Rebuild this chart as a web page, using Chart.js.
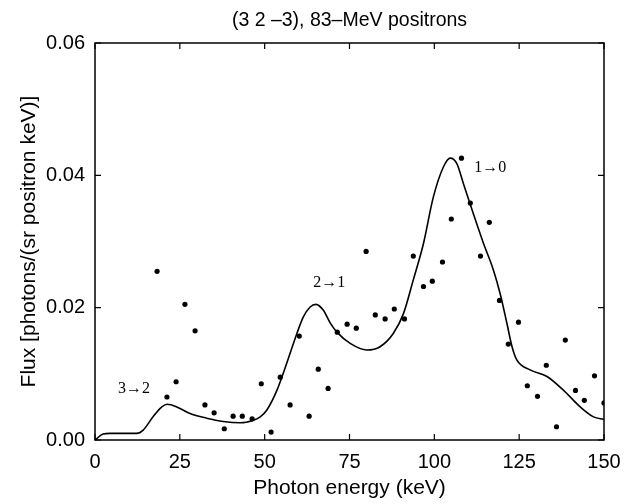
<!DOCTYPE html>
<html>
<head>
<meta charset="utf-8">
<script src="https://cdn.jsdelivr.net/npm/chart.js@4"></script>
<style>
html,body{margin:0;padding:0;background:#fff;}
#wrap{width:631px;height:504px;}
</style>
</head>
<body>
<div id="wrap"><canvas id="c" width="631" height="504"></canvas></div>
<script>
// Measured points (photon energy keV, flux)
const energyKeV = [18.3,21.2,23.9,26.5,29.5,32.4,35.1,38.1,40.7,43.4,46.3,49.0,51.9,54.6,57.5,60.2,63.1,65.8,68.7,71.4,74.3,77.0,79.9,82.6,85.5,88.2,91.2,93.8,96.8,99.4,102.4,105.0,108.0,110.6,113.6,116.2,119.2,121.8,124.8,127.4,130.4,133.0,136.0,138.6,141.6,144.2,147.2,150.0];
const fluxMeasured = [0.0255,0.0065,0.0088,0.0205,0.0165,0.0053,0.0041,0.0017,0.0036,0.0036,0.0032,0.0085,0.0012,0.0095,0.0053,0.0157,0.0036,0.0107,0.0078,0.0163,0.0175,0.0169,0.0285,0.0189,0.0183,0.0198,0.0183,0.0278,0.0232,0.0240,0.0269,0.0334,0.0426,0.0358,0.0278,0.0329,0.0211,0.0145,0.0178,0.0082,0.0066,0.0113,0.0020,0.0151,0.0075,0.0060,0.0097,0.0056];
// Calculated curve
const curveEnergy = [0,2.4,4.4,8,12.3,14.2,17.1,19.7,21.3,24.1,28.0,32.9,37.8,42.8,46.7,48.7,50.6,53.6,56.5,59.5,61.4,63.4,65.1,67.3,69.3,71.3,75.2,80.1,84.0,87.9,90.9,93.8,96.8,99.7,102.7,104.7,106.6,108.6,111.5,114.5,117.4,119.4,121.4,122.9,124.3,128.2,133.2,138.1,143.0,146.9,150.0];
const curveFlux = [0.0000,0.0009,0.0010,0.0010,0.0010,0.0015,0.0035,0.0050,0.0054,0.0050,0.0040,0.0033,0.0028,0.0026,0.0030,0.0035,0.0045,0.0075,0.0116,0.0161,0.0186,0.0201,0.0205,0.0196,0.0177,0.0163,0.0146,0.0136,0.0141,0.0161,0.0191,0.0242,0.0297,0.0367,0.0413,0.0426,0.0418,0.0387,0.0342,0.0297,0.0257,0.0221,0.0176,0.0141,0.0121,0.0106,0.0096,0.0075,0.0050,0.0035,0.0031];
// Transition labels and their anchor in data coordinates
const transitionLabels = ['3\u21922','2\u21921','1\u21920'];
const transitionX = [11.5,69.0,116.5];
const transitionY = [0.0077,0.0237,0.0412];
// Tick values
const xTicks = [0,25,50,75,100,125,150];
const yTicks = [0,0.02,0.04,0.06];

const curvePts = curveEnergy.map((x,i)=>({x:x,y:curveFlux[i]}));
const measPts = energyKeV.map((x,i)=>({x:x,y:fluxMeasured[i]}));
const SANS = '"Liberation Sans", Arial, sans-serif';

const framePlugin = {
  id:'frame',
  afterDatasetsDraw(chart){
    const {ctx, chartArea:a, scales:{x,y}} = chart;
    ctx.save();
    ctx.strokeStyle='#000';
    ctx.lineWidth=1.5;
    ctx.strokeRect(a.left,a.top,a.right-a.left,a.bottom-a.top);
    ctx.lineWidth=1.2;
    const L=6;
    ctx.beginPath();
    xTicks.forEach(v=>{
      const px=x.getPixelForValue(v);
      ctx.moveTo(px,a.bottom); ctx.lineTo(px,a.bottom-L);
      ctx.moveTo(px,a.top); ctx.lineTo(px,a.top+L);
    });
    yTicks.forEach(v=>{
      const py=y.getPixelForValue(v);
      ctx.moveTo(a.left,py); ctx.lineTo(a.left+L,py);
      ctx.moveTo(a.right,py); ctx.lineTo(a.right-L,py);
    });
    ctx.stroke();
    ctx.fillStyle='#000';
    ctx.font='16px "Liberation Serif", "DejaVu Serif", serif';
    ctx.textAlign='center';
    ctx.textBaseline='middle';
    transitionLabels.forEach((t,i)=>{
      ctx.fillText(t, x.getPixelForValue(transitionX[i]), y.getPixelForValue(transitionY[i]));
    });
    ctx.restore();
  }
};

new Chart(document.getElementById('c'),{
  type:'scatter',
  data:{datasets:[
    {data:measPts, showLine:false, pointRadius:2.6, pointHoverRadius:2.6, backgroundColor:'#000', borderWidth:0, order:1},
    {data:curvePts, showLine:true, pointRadius:0, borderColor:'#000', borderWidth:1.6, tension:0.3, cubicInterpolationMode:'monotone', fill:false, order:2}
  ]},
  options:{
    responsive:false, animation:false, devicePixelRatio:1,
    layout:{padding:{left:0,right:27,top:0,bottom:0}},
    plugins:{
      legend:{display:false}, tooltip:{enabled:false},
      title:{display:true, text:'(3 2 \u20133), 83\u2013MeV positrons', fullSize:false, color:'#000',
        font:{family:SANS, size:19.5, weight:'normal', lineHeight:1.2}, padding:{top:8.6,bottom:11}}
    },
    scales:{
      x:{type:'linear', min:0, max:150,
        afterFit(s){s.height=64;},
        afterBuildTicks(s){s.ticks=xTicks.map(v=>({value:v}));},
        grid:{display:false, drawTicks:false}, border:{display:false},
        ticks:{color:'#000', padding:10, maxRotation:0, font:{family:SANS, size:20}},
        title:{display:true, text:'Photon energy (keV)', color:'#000', padding:{top:0,bottom:3}, font:{family:SANS, size:21}}
      },
      y:{type:'linear', min:0, max:0.06,
        afterFit(s){s.width=95;},
        afterBuildTicks(s){s.ticks=yTicks.map(v=>({value:v}));},
        grid:{display:false, drawTicks:false}, border:{display:false},
        ticks:{color:'#000', padding:10, callback:v=>Number(v).toFixed(2), font:{family:SANS, size:20}},
        title:{display:true, text:'Flux [photons/(sr positron keV)]', color:'#000', padding:{top:17,bottom:0}, font:{family:SANS, size:21}}
      }
    }
  },
  plugins:[framePlugin]
});
</script>
</body>
</html>
